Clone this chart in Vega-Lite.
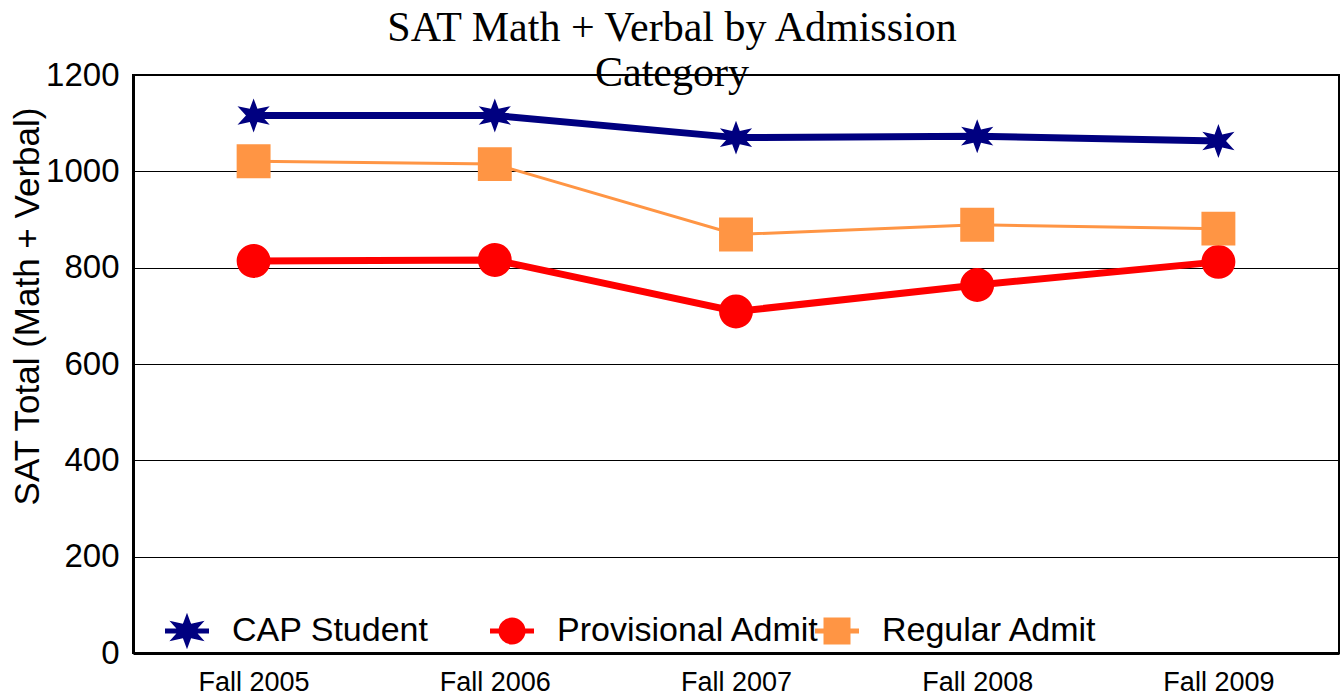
{
  "$schema": "https://vega.github.io/schema/vega-lite/v6.json",
  "autosize": "none",
  "width": 1206,
  "height": 578,
  "padding": {"left": 133, "top": 75, "right": 2, "bottom": 43},
  "background": "white",
  "title": {
    "text": ["SAT Math + Verbal by Admission", "Category"],
    "font": "Liberation Serif",
    "fontSize": 42,
    "fontWeight": "normal",
    "color": "black",
    "anchor": "middle",
    "frame": "group",
    "dx": -64,
    "lineHeight": 45,
    "offset": -36
  },
  "data": {
    "values": [
      {"year": "Fall 2005", "series": "CAP Student", "value": 1116},
      {"year": "Fall 2006", "series": "CAP Student", "value": 1116},
      {"year": "Fall 2007", "series": "CAP Student", "value": 1070},
      {"year": "Fall 2008", "series": "CAP Student", "value": 1073},
      {"year": "Fall 2009", "series": "CAP Student", "value": 1063},
      {"year": "Fall 2005", "series": "Provisional Admit", "value": 814},
      {"year": "Fall 2006", "series": "Provisional Admit", "value": 816},
      {"year": "Fall 2007", "series": "Provisional Admit", "value": 709},
      {"year": "Fall 2008", "series": "Provisional Admit", "value": 764},
      {"year": "Fall 2009", "series": "Provisional Admit", "value": 812},
      {"year": "Fall 2005", "series": "Regular Admit", "value": 1021},
      {"year": "Fall 2006", "series": "Regular Admit", "value": 1015},
      {"year": "Fall 2007", "series": "Regular Admit", "value": 869},
      {"year": "Fall 2008", "series": "Regular Admit", "value": 889},
      {"year": "Fall 2009", "series": "Regular Admit", "value": 881}
    ]
  },
  "encoding": {
    "x": {
      "field": "year", "type": "ordinal",
      "scale": {"type": "point", "padding": 0.5},
      "axis": {
        "title": null, "labelAngle": 0, "labelFont": "Liberation Sans", "labelFontSize": 27,
        "labelColor": "black", "ticks": false, "labelPadding": 16, "domainColor": "black",
        "domainWidth": 3, "grid": false
      }
    },
    "y": {
      "field": "value", "type": "quantitative",
      "scale": {"domain": [0, 1200], "nice": false},
      "axis": {
        "title": "SAT Total (Math + Verbal)", "titleFont": "Liberation Sans", "titleFontSize": 35,
        "titleFontWeight": "normal", "titleColor": "black",
        "titleX": -106, "titleY": 231, "titleAngle": 270, "titleAlign": "center", "titleBaseline": "middle",
        "values": [0, 200, 400, 600, 800, 1000, 1200], "format": "d",
        "labelFont": "Liberation Sans", "labelFontSize": 33, "labelColor": "black",
        "ticks": false, "labelPadding": 14, "domainColor": "black", "domainWidth": 3,
        "grid": true, "gridColor": "black", "gridWidth": 1, "gridOpacity": 1
      }
    },
    "color": {
      "field": "series", "type": "nominal",
      "scale": {"domain": ["CAP Student", "Provisional Admit", "Regular Admit"], "range": ["#000080", "#ff0000", "#ff9544"]},
      "legend": {
        "title": null, "orient": "none", "legendX": 37, "legendY": 539, "direction": "horizontal",
        "columns": 3, "gridAlign": "all", "columnPadding": -30, "padding": 0,
        "labelFont": "Liberation Sans", "labelFontSize": 34, "labelColor": "black",
        "labelOffset": 28, "symbolSize": 484, "symbolStrokeWidth": 5, "labelLimit": 400,
        "symbolOpacity": 1,
        "encode": {
          "symbols": {"update": {"stroke": {"scale": "color", "field": "value"}, "fill": {"scale": "color", "field": "value"}, "strokeWidth": {"value": 5}, "opacity": {"value": 1}}}
        }
      }
    }
  },
  "layer": [
    {
      "transform": [{"filter": "datum.series === 'CAP Student'"}],
      "mark": {"type": "line", "strokeWidth": 7}
    },
    {
      "transform": [{"filter": "datum.series === 'Provisional Admit'"}],
      "mark": {"type": "line", "strokeWidth": 7}
    },
    {
      "transform": [{"filter": "datum.series === 'Regular Admit'"}],
      "mark": {"type": "line", "strokeWidth": 3}
    },
    {
      "mark": {"type": "point", "filled": true, "opacity": 1, "size": 1150},
      "encoding": {
        "shape": {
          "field": "series", "type": "nominal",
          "scale": {
            "domain": ["CAP Student", "Provisional Admit", "Regular Admit"],
            "range": [
              "M-2,0H2M0,-1L0.225,-0.39L0.95,-0.55L0.45,0L0.95,0.55L0.225,0.39L0,1L-0.225,0.39L-0.95,0.55L-0.45,0L-0.95,-0.55L-0.225,-0.39Z",
              "M-2,0H2M-1,0A1,1,0,1,1,1,0A1,1,0,1,1,-1,0Z",
              "M-2,0H2M-1,-1H1V1H-1Z"
            ]
          }
        }
      }
    }
  ],
  "config": {
    "view": {"stroke": "black", "strokeWidth": 2}
  }
}
